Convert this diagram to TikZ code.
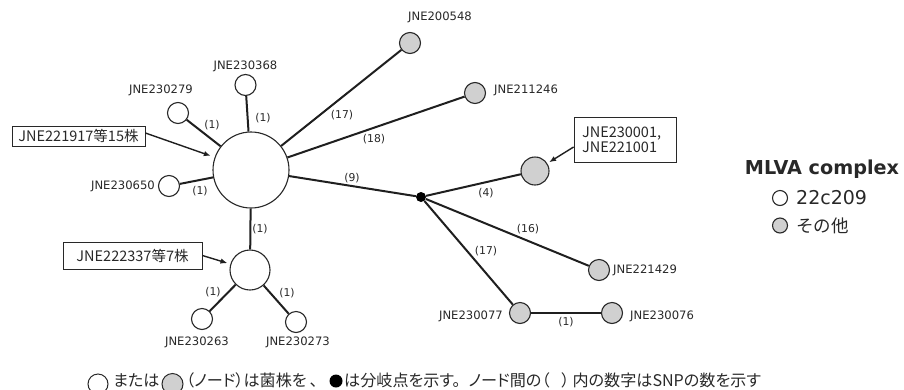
\documentclass[tikz,border=0pt]{standalone}
\usepackage{fontspec}
\setmainfont{DejaVu Sans}
\newfontfamily\jp{Noto Sans CJK JP}
\newfontfamily\jpp[RawFeature=+palt]{Noto Sans CJK JP}
\usetikzlibrary{arrows.meta}
\definecolor{nodegray}{RGB}{208,208,208}
\definecolor{ink}{RGB}{40,40,40}
\begin{document}
\begin{tikzpicture}[x=1pt,y=-1pt,
  wnode/.style={circle,draw=ink,line width=1.1pt,fill=white,inner sep=0pt,minimum size=#1},
  wnode/.default=21pt,
  gnode/.style={circle,draw=ink,line width=1.1pt,fill=nodegray,inner sep=0pt,minimum size=#1},
  gnode/.default=21pt,
  bdot/.style={circle,fill=black,inner sep=0pt,minimum size=#1},
  lbl/.style={font=\fontsize{11.6}{13}\selectfont,text=ink,inner sep=0pt},
  snp/.style={font=\fontsize{10.8}{12}\selectfont,text=ink,inner sep=0pt},
  edge/.style={line width=2pt,draw=black!88},
  boxlbl/.style={draw=ink,line width=0.8pt,fill=white,inner sep=0pt,font=\jp\fontsize{14.5}{17}\selectfont,text=ink,align=left},
  arr/.style={line width=1.4pt,draw=black!88,-{Latex[length=7pt,width=5.5pt]}},
  captxt/.style={font=\jpp\fontsize{16.1}{18}\selectfont,text=ink,inner sep=0pt,anchor=base west},
  legtxt/.style={font=\fontsize{19}{21}\selectfont,text=ink,inner sep=0pt,anchor=west},
]
\useasboundingbox (0,0) rectangle (904,389);

% nodes
\node[wnode=76pt] (big) at (251,170) {};
\node[wnode=40pt] (mid) at (250,270) {};
\node[wnode] (n230368) at (245.5,85) {};
\node[wnode] (n230279) at (178,113) {};
\node[wnode] (n230650) at (169,186) {};
\node[wnode] (n230263) at (202,319) {};
\node[wnode] (n230273) at (296,322) {};
\node[gnode] (n200548) at (410,43) {};
\node[gnode] (n211246) at (475,93) {};
\node[gnode=28pt] (n230001) at (535,171) {};
\node[gnode] (n221429) at (599,270) {};
\node[gnode] (n230077) at (520,313) {};
\node[gnode] (n230076) at (612,313) {};
\node[bdot=10pt] (br) at (421,197) {};

% edges
\draw[edge] (big) -- (n230368);
\draw[edge] (big) -- (n230279);
\draw[edge] (big) -- (n230650);
\draw[edge] (big) -- (n200548);
\draw[edge] (big) -- (n211246);
\draw[edge] (big) -- (br);
\draw[edge] (big) -- (mid);
\draw[edge] (mid) -- (n230263);
\draw[edge] (mid) -- (n230273);
\draw[edge] (br) -- (n230001);
\draw[edge] (br) -- (n221429);
\draw[edge] (br) -- (n230077);
\draw[edge] (n230077) -- (n230076);

% node labels
\node[lbl] (t230368) at (245.5,66) {JNE230368};
\node[lbl] (t230279) at (161,90) {JNE230279};
\node[lbl,anchor=east] (t230650) at (155,186) {JNE230650};
\node[lbl] (t230263) at (197,342) {JNE230263};
\node[lbl] (t230273) at (298,342) {JNE230273};
\node[lbl] (t200548) at (440,17) {JNE200548};
\node[lbl,anchor=west] (t211246) at (494,90) {JNE211246};
\node[lbl,anchor=west] (t221429) at (613,270) {JNE221429};
\node[lbl,anchor=east] (t230077) at (503,316) {JNE230077};
\node[lbl,anchor=west] (t230076) at (630,316) {JNE230076};

% SNP labels
\node[snp] (s1) at (263,118) {(1)};
\node[snp] (s2) at (212,125) {(1)};
\node[snp] (s3) at (200,191) {(1)};
\node[snp] (s4) at (342,115) {(17)};
\node[snp] (s5) at (374,139) {(18)};
\node[snp] (s6) at (352,178) {(9)};
\node[snp] (s7) at (260,229) {(1)};
\node[snp] (s8) at (213,292) {(1)};
\node[snp] (s9) at (287,293) {(1)};
\node[snp] (s10) at (486,193) {(4)};
\node[snp] (s11) at (528,229) {(16)};
\node[snp] (s12) at (486,251) {(17)};
\node[snp] (s13) at (566,322) {(1)};

% callout boxes
\node[boxlbl,minimum width=133pt,minimum height=20pt,align=center] (box1) at (78.5,136) {JNE221917等15株};
\node[boxlbl,minimum width=139pt,minimum height=27pt,align=center] (box2) at (132.5,255.5) {JNE222337等7株};
\node[boxlbl,minimum width=102pt,minimum height=45pt,text width=86pt] (box3) at (625,139.5) {JNE230001,\\[-2pt]JNE221001};
\draw[arr,shorten >=4pt] ([yshift=3pt]box1.east) -- (big);
\draw[arr,shorten >=3pt] (box2.east) -- (mid);
\draw[arr,shorten >=2pt] ([yshift=-7.5pt]box3.west) -- (n230001);

% legend
\node[font=\bfseries\fontsize{19.2}{21}\selectfont,text=ink,inner sep=0pt] (legt) at (822,169) {MLVA complex};
\node[wnode=15pt] (legw) at (780,198) {};
\node[gnode=15pt] (legg) at (780,225.5) {};
\node[legtxt] (legwt) at (796,198) {22c209};
\node[legtxt,font=\jp\fontsize{17.5}{20}\selectfont] (leggt) at (796,226) {その他};

% caption
\node[wnode=20pt,line width=1pt] (capw) at (98,384) {};
\node[captxt] (cap1) at (113,386) {または};
\node[gnode=21pt,line width=1pt] (capg) at (172.5,384) {};
\node[captxt] (cap2) at (186,386) {（ノード）は菌株を\hspace{3pt}、};
\node[bdot=13pt] (capb) at (336,381) {};
\node[captxt] (cap3) at (344,386) {は分岐点を示す。\hspace{8pt}ノード間の（\hspace{12pt}）\hspace{3pt}内の数字はSNPの数を示す};
\end{tikzpicture}
\end{document}
